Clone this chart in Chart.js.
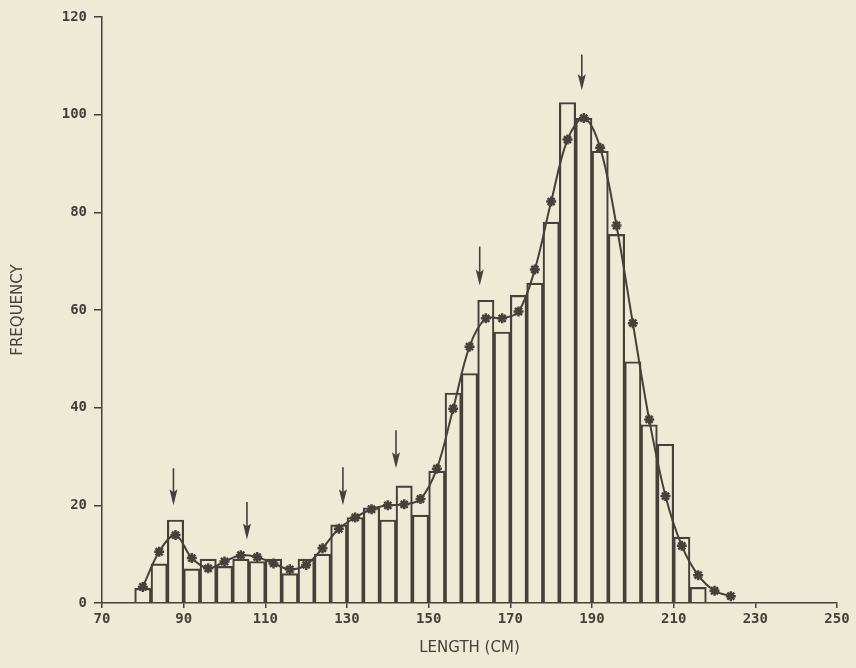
<!DOCTYPE html>
<html>
<head>
<meta charset="utf-8">
<script src="https://cdn.jsdelivr.net/npm/chart.js@4"></script>
<style>
  html, body { margin: 0; padding: 0; background: #eeead5; }
  #wrap { width: 856px; height: 668px; }
</style>
</head>
<body>
<div id="wrap"><canvas id="chart-length" width="856" height="668"></canvas></div>
<script>
// Colors
const color_ink = '#45413a'
const color_bg = '#eeead5'

// Histogram bins (bin centre, cm) and counts
const bar_lengths = [80, 84, 88, 92, 96, 100, 104, 108, 112, 116, 120, 124, 128, 132, 136, 140, 144, 148,
    152, 156, 160, 164, 168, 172, 176, 180, 184, 188, 192, 196, 200, 204, 208, 212, 216]
const bar_counts = [3, 8, 17, 7, 9, 7.5, 9, 8.5, 9, 6, 9, 10, 16, 17.5, 19.5, 17, 24, 18,
    27, 43, 47, 62, 55.5, 63, 65.5, 78, 102.5, 99.3, 92.5, 75.5, 49.4, 36.5, 32.5, 13.5, 3.2]

// Smoothed curve (star markers)
const curve_lengths = [80, 84, 88, 92, 96, 100, 104, 108, 112, 116, 120, 124, 128, 132, 136, 140, 144, 148,
    152, 156, 160, 164, 168, 172, 176, 180, 184, 188, 192, 196, 200, 204, 208, 212, 216, 220, 224]
const curve_values = [3.3, 10.5, 13.9, 9.2, 7.1, 8.5, 9.8, 9.4, 8.1, 6.9, 7.8, 11.2, 15.2, 17.5, 19.2, 20, 20.2, 21.3,
    27.5, 39.8, 52.5, 58.3, 58.3, 59.7, 68.3, 82.2, 94.9, 99.3, 93.2, 77.3, 57.3, 37.6, 21.9, 11.7, 5.7, 2.5, 1.4]

// Arrows marking modes (x, arrow top, arrow tip)
const arrow_x = [87.5, 105.5, 129, 142, 162.5, 187.5]
const arrow_top = [27.6, 20.7, 27.8, 35.4, 73, 112.3]
const arrow_tip = [20, 13, 20, 27.6, 65, 105]

// Axis ticks
const x_ticks = [70, 90, 110, 130, 150, 170, 190, 210, 230, 250]
const y_ticks = [0, 20, 40, 60, 80, 100, 120]

const tick_font = { family: 'DejaVu Sans Mono', size: 14, weight: 'bold' }
const title_font = { family: 'DejaVu Sans', size: 15, weight: 'normal' }

// draws the little down arrows through the scales
const arrowPlugin = {
    id: 'arrows',
    afterDatasetsDraw(chart) {
        const ctx = chart.ctx
        const xs = chart.scales.x
        const ys = chart.scales.y
        ctx.save()
        ctx.strokeStyle = color_ink
        ctx.fillStyle = color_ink
        ctx.lineWidth = 1.6
        for (let i = 0; i < arrow_x.length; i++) {
            const px = xs.getPixelForValue(arrow_x[i])
            const top = ys.getPixelForValue(arrow_top[i])
            const tip = ys.getPixelForValue(arrow_tip[i])
            ctx.beginPath()
            ctx.moveTo(px, top)
            ctx.lineTo(px, tip - 4)
            ctx.stroke()
            ctx.beginPath()
            ctx.moveTo(px, tip)
            ctx.lineTo(px - 4, tip - 16)
            ctx.lineTo(px, tip - 13)
            ctx.lineTo(px + 4, tip - 16)
            ctx.closePath()
            ctx.fill()
        }
        ctx.restore()
    }
}

const data = {
    datasets: [{
            type: 'line',
            label: 'Smoothed',
            data: curve_lengths.map((x, i) => ({ x: x, y: curve_values[i] })),
            borderColor: color_ink,
            borderWidth: 2,
            tension: 0.35,
            pointStyle: 'star',
            pointRadius: 5,
            pointBorderWidth: 2.5,
            pointBorderColor: color_ink,
            pointBackgroundColor: color_ink,
            order: 0,
        },
        {
            type: 'bar',
            label: 'Counts',
            data: bar_lengths.map((x, i) => ({ x: x, y: bar_counts[i] })),
            backgroundColor: 'rgba(0,0,0,0)',
            borderColor: color_ink,
            borderWidth: 1.5,
            borderSkipped: 'bottom',
            barPercentage: 1,
            categoryPercentage: 1,
            order: 1,
        },
    ]
}

const config = {
    type: 'bar',
    data: data,
    options: {
        responsive: false,
        animation: false,
        layout: {
            padding: { left: 0, right: 19, top: 17, bottom: 0 },
        },
        plugins: {
            legend: { display: false },
            tooltip: { enabled: false },
        },
        scales: {
            x: {
                type: 'linear',
                min: 70,
                max: 250,
                offset: false,
                afterBuildTicks: (scale) => { scale.ticks = x_ticks.map(v => ({ value: v })) },
                afterFit: (scale) => { scale.height = 65 },
                ticks: {
                    color: color_ink,
                    font: tick_font,
                    padding: 3,
                    maxRotation: 0,
                    autoSkip: false,
                },
                grid: {
                    offset: false,
                    drawOnChartArea: false,
                    drawTicks: true,
                    tickLength: 5,
                    color: color_ink,
                    lineWidth: 1.5,
                },
                border: { display: true, color: color_ink, width: 1.5 },
                title: {
                    display: true,
                    text: 'LENGTH (CM)',
                    color: color_ink,
                    font: title_font,
                    padding: { top: 11, bottom: 11 },
                },
            },
            y: {
                type: 'linear',
                min: 0,
                max: 120,
                afterBuildTicks: (scale) => { scale.ticks = y_ticks.map(v => ({ value: v })) },
                afterFit: (scale) => { scale.width = 102 },
                ticks: {
                    color: color_ink,
                    font: tick_font,
                    padding: 7,
                },
                grid: {
                    drawOnChartArea: false,
                    drawTicks: true,
                    tickLength: 8,
                    color: color_ink,
                    lineWidth: 1.5,
                },
                border: { display: true, color: color_ink, width: 1.5 },
                title: {
                    display: true,
                    text: 'FREQUENCY',
                    color: color_ink,
                    font: title_font,
                    padding: { top: 9, bottom: 9 },
                },
            },
        },
    },
    plugins: [arrowPlugin],
}

const context = document.getElementById('chart-length').getContext('2d')
const chart = new Chart(context, config)
</script>
</body>
</html>
